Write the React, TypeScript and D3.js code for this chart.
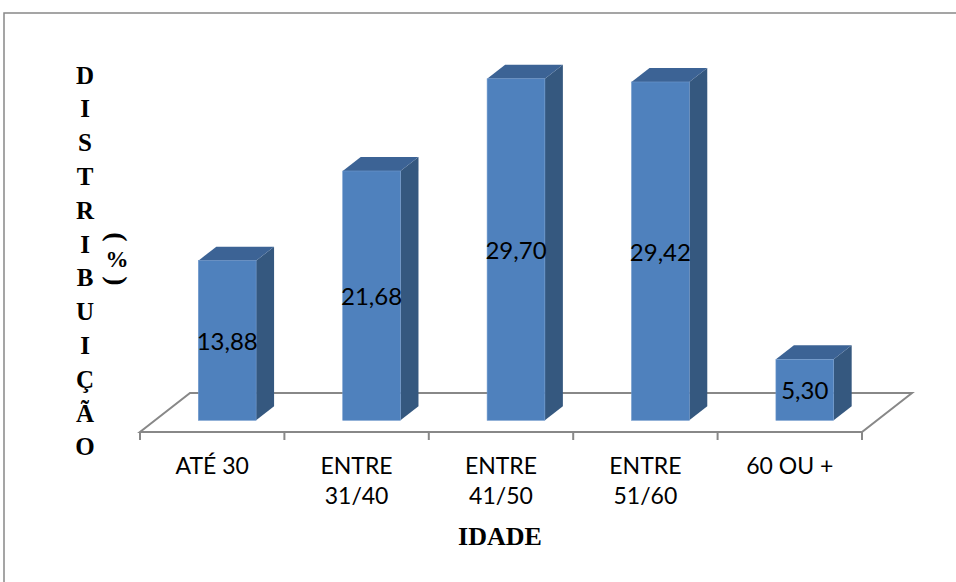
import React from "react";
import * as d3 from "d3";

// Age groups (x-axis), each may wrap onto two lines
const categories: string[][] = [
  ["ATÉ 30"],
  ["ENTRE", "31/40"],
  ["ENTRE", "41/50"],
  ["ENTRE", "51/60"],
  ["60 OU +"],
];
// Share of respondents per age group (%)
const values: number[] = [13.88, 21.68, 29.7, 29.42, 5.3];
const valueLabels: string[] = ["13,88", "21,68", "29,70", "29,42", "5,30"];
const yTitle: string[] = ["D", "I", "S", "T", "R", "I", "B", "U", "I", "Ç", "Ã", "O"];
const xTitle = "IDADE";

const W = 956;
const H = 582;

// floor geometry (oblique projection)
const floorLeft = 140;
const floorRight = 862;
const floorFrontY = 432;
const depth = { dx: 50, dy: -39 };
const frontT = 0.3; // bar front plane, as a fraction of the floor depth
const backT = 0.66; // bar back plane

const FRONT = "#4F81BD";
const SIDE = "#35587F";
const TOP = "#3C6395";
const GRID = "#888888";

export default function App() {
  const x = d3
    .scaleBand<number>()
    .domain(values.map((_, i) => i))
    .range([floorLeft, floorRight])
    .paddingInner(0.6)
    .paddingOuter(0.3);

  const fx = depth.dx * frontT;
  const fy = depth.dy * frontT;
  const sx = depth.dx * (backT - frontT);
  const sy = depth.dy * (backT - frontT);

  const baseY = floorFrontY + fy;
  const y = d3.scaleLinear().domain([0, 35]).range([baseY, baseY - 35 * 11.5]);

  const step = x.step();
  const ticks = d3.range(values.length + 1).map((i) => floorLeft + i * step);

  const floorPath = [
    [floorLeft, floorFrontY],
    [floorRight, floorFrontY],
    [floorRight + depth.dx, floorFrontY + depth.dy],
    [floorLeft + depth.dx, floorFrontY + depth.dy],
  ];
  const line = d3.line();

  const labelFont = "Lato, 'Open Sans', sans-serif";
  const serif = "'Liberation Serif', 'DejaVu Serif', serif";

  return (
    <svg
      width={W}
      height={H}
      style={{ position: "absolute", left: 0, top: 0, background: "#fff" }}
    >
      {/* chart area frame */}
      <rect x={4} y={13} width={1000} height={1000} fill="none" stroke={GRID} strokeWidth={1.5} />

      {/* floor */}
      <path d={line(floorPath as [number, number][]) + "Z"} fill="none" stroke={GRID} strokeWidth={2} />
      {ticks.map((t, i) => (
        <line key={i} x1={t} x2={t} y1={floorFrontY} y2={floorFrontY + 8} stroke={GRID} strokeWidth={2} />
      ))}

      {/* bars */}
      {values.map((v, i) => {
        const x0 = (x(i) as number) + fx;
        const x1 = x0 + x.bandwidth();
        const yt = y(v);
        const yb = y(0);
        const top = [
          [x0, yt],
          [x1, yt],
          [x1 + sx, yt + sy],
          [x0 + sx, yt + sy],
        ] as [number, number][];
        const side = [
          [x1, yt],
          [x1 + sx, yt + sy],
          [x1 + sx, yb + sy],
          [x1, yb],
        ] as [number, number][];
        return (
          <g key={i}>
            <path d={line(side) + "Z"} fill={SIDE} />
            <path d={line(top) + "Z"} fill={TOP} />
            <rect x={x0} y={yt} width={x1 - x0} height={yb - yt} fill={FRONT} stroke="#6f98cc" strokeWidth={0.6} />
            <text
              x={(x0 + x1) / 2}
              y={(yt + yb) / 2}
              textAnchor="middle"
              dominantBaseline="central"
              fontFamily={labelFont}
              fontSize={24}
              fill="#000"
            >
              {valueLabels[i]}
            </text>
          </g>
        );
      })}

      {/* category labels */}
      {categories.map((lines, i) => {
        const cx = floorLeft + (i + 0.5) * step;
        return (
          <text key={i} textAnchor="middle" fontFamily={labelFont} fontSize={23} fill="#000">
            {lines.map((l, j) => (
              <tspan key={j} x={cx} y={474 + j * 30}>
                {l}
              </tspan>
            ))}
          </text>
        );
      })}

      {/* axis titles */}
      <text x={500} y={545} textAnchor="middle" fontFamily={serif} fontWeight="bold" fontSize={26} fill="#000">
        {xTitle}
      </text>
      {yTitle.map((c, i) => (
        <text
          key={i}
          x={85}
          y={75 + i * 33.8}
          textAnchor="middle"
          dominantBaseline="central"
          fontFamily={serif}
          fontWeight="bold"
          fontSize={25}
          fill="#000"
        >
          {c}
        </text>
      ))}
      <g fontFamily={serif} fontWeight="bold" fill="#000">
        <g transform="translate(117,237) rotate(90)">
          <text x={0} y={0} fontSize={28} textAnchor="middle" dominantBaseline="central">
            (
          </text>
        </g>
        <text x={117} y={259} fontSize={23} textAnchor="middle" dominantBaseline="central">
          %
        </text>
        <g transform="translate(117,281) rotate(90)">
          <text x={0} y={0} fontSize={28} textAnchor="middle" dominantBaseline="central">
            )
          </text>
        </g>
      </g>
    </svg>
  );
}
